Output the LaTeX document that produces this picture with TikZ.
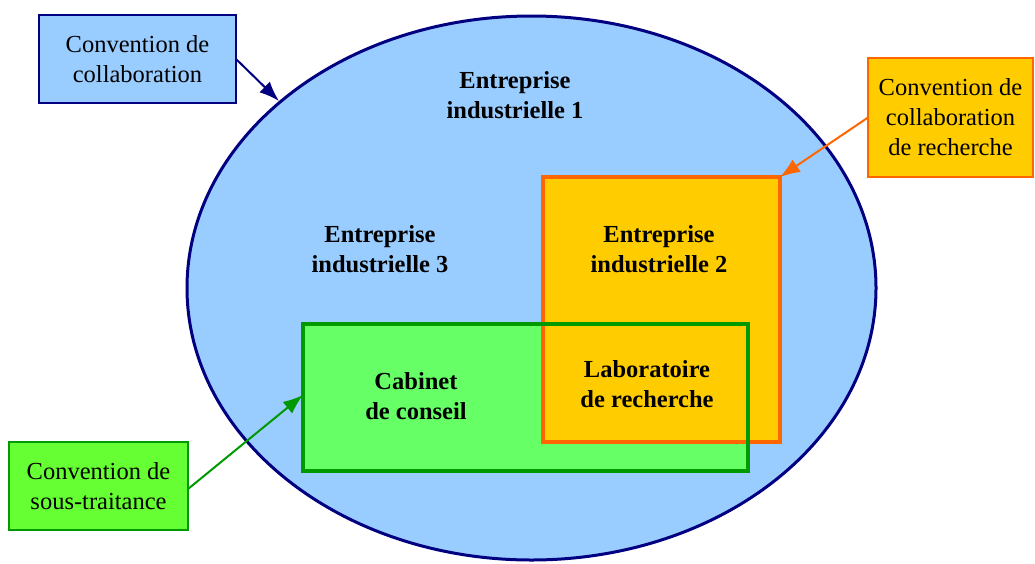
\documentclass[tikz,border=0pt]{standalone}
\usepackage{fontspec}
\setmainfont{Liberation Serif}
\usepackage{tikz}
\usetikzlibrary{arrows.meta,positioning,calc,shapes.geometric}

\definecolor{ellblue}{HTML}{99CCFF}
\definecolor{navyline}{HTML}{000080}
\definecolor{orgfill}{HTML}{FFCC00}
\definecolor{orgline}{HTML}{FF6600}
\definecolor{grnfill}{HTML}{66FF66}
\definecolor{grnline}{HTML}{009900}
\definecolor{grnbox}{HTML}{66FF33}

\tikzset{
  conv/.style={draw,line width=2pt,outer sep=0pt,inner sep=0pt,align=center},
  zone/.style={outer sep=0pt,inner sep=0pt},
  title/.style={font=\fontsize{24.5}{30}\selectfont\bfseries,align=center},
  link/.style={line width=2pt,-{Latex[length=20pt,width=15pt]}}
}

\begin{document}
\begin{tikzpicture}[x=1pt,y=-1pt,font=\fontsize{24.5}{30}\selectfont]
    \useasboundingbox (0,0) rectangle (1035,563);

    % the three firms and the lab
    \node[zone,ellipse,draw=navyline,fill=ellblue,line width=3pt,minimum width=689pt,minimum height=544pt] (ent1) at (531.5,288) {};
    \node[zone,fill=grnfill,minimum width=445pt,minimum height=147pt] (cab) at (525.5,397.5) {};
    \node[zone,draw=orgline,fill=orgfill,line width=3.5pt,minimum width=237pt,minimum height=265pt] (lab) at (661.5,309.5) {};
    \draw[grnline,line width=3.5pt] (cab.north west) rectangle (cab.south east);

    \node[title] (t1) at (515,95) {Entreprise\\industrielle 1};
    \node[title] (t3) at (380,249) {Entreprise\\industrielle 3};
    \node[title] (t2) at (659,249) {Entreprise\\industrielle 2};
    \node[title] (tcab) at (416,396) {Cabinet\\de conseil};
    \node[title] (tlab) at (647,384) {Laboratoire\\de recherche};

    % conventions
    \node[conv,draw=navyline,fill=ellblue,minimum width=197pt,minimum height=88pt] (conv1) at (137.5,59) {Convention de\\collaboration};
    \node[conv,draw=orgline,fill=orgfill,minimum width=165pt,minimum height=119pt] (conv2) at (950.5,117.5) {Convention de\\collaboration\\de recherche};
    \node[conv,draw=grnline,fill=grnbox,minimum width=179pt,minimum height=88pt] (conv3) at (98.5,486) {Convention de\\sous-traitance};

    \coordinate (e1) at (279,101);
    \draw[link,navyline] (conv1.east) -- (e1);
    \draw[link,orgline] (conv2.west) -- (lab.north east);
    \draw[link,grnline] ([yshift=-3pt]conv3.east) -- ([yshift=2.5pt]cab.west);
\end{tikzpicture}
\end{document}
